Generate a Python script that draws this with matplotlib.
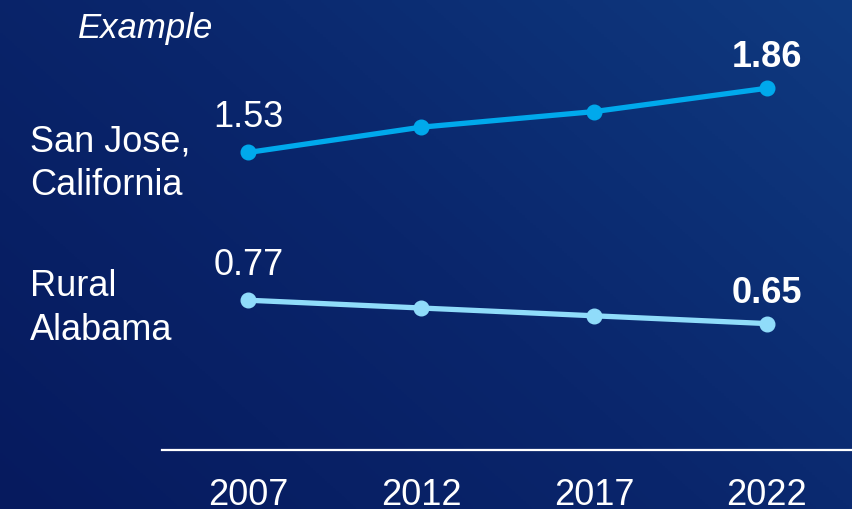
import numpy as np
import matplotlib.pyplot as plt
from matplotlib.colors import LinearSegmentedColormap

plt.rcParams['font.family'] = ['Liberation Sans', 'DejaVu Sans']

years = [2007, 2012, 2017, 2022]
san_jose = [1.53, 1.66, 1.74, 1.86]
rural_alabama = [0.77, 0.73, 0.69, 0.65]
series_names = ["San Jose,\nCalifornia", "Rural\nAlabama"]

fig = plt.figure(figsize=(8.53, 5.09), dpi=100)

# gradient background, dark bottom-left to lighter top-right
bg = fig.add_axes([0, 0, 1, 1], zorder=0)
xx, yy = np.meshgrid(np.linspace(0, 1, 300), np.linspace(0, 1, 200))
grad = 0.6 * xx + 0.4 * yy
cmap = LinearSegmentedColormap.from_list("bg", ["#061a5e", "#0a266c", "#0f3a80"])
bg.imshow(grad, cmap=cmap, origin="lower", aspect="auto", extent=[0, 1, 0, 1])
bg.axis("off")

ax = fig.add_axes([0.19, 0.116, 0.81, 0.884], zorder=1)
ax.patch.set_alpha(0)
ax.plot(years, san_jose, color="#00a9ec", lw=3.8, marker="o", ms=10.5,
        solid_capstyle="round")
ax.plot(years, rural_alabama, color="#90dcfa", lw=3.8, marker="o", ms=10.5,
        solid_capstyle="round")

ax.set_xlim(2004.5, 2024.5)
ax.set_ylim(0, 2.314)
ax.set_xticks(years)
ax.set_xticklabels([str(y) for y in years], fontsize=26, color="white")
ax.tick_params(axis="x", length=0, pad=20)
ax.set_yticks([])
for s in ["top", "right", "left"]:
    ax.spines[s].set_visible(False)
ax.spines["bottom"].set_color("white")
ax.spines["bottom"].set_linewidth(1.6)

# value labels at start (regular) and end (bold)
for vals in [san_jose, rural_alabama]:
    ax.annotate(f"{vals[0]:.2f}", (years[0], vals[0]), xytext=(0, 18),
                textcoords="offset points", ha="center", va="baseline",
                fontsize=26, color="white")
    ax.annotate(f"{vals[-1]:.2f}", (years[-1], vals[-1]), xytext=(0, 15),
                textcoords="offset points", ha="center", va="baseline",
                fontsize=26, color="white", fontweight="bold")

fig.text(0.035, 0.756, series_names[0], fontsize=26, color="white",
         va="top", ha="left", linespacing=1.33)
fig.text(0.035, 0.471, series_names[1], fontsize=26, color="white",
         va="top", ha="left", linespacing=1.33)
fig.text(0.091, 0.976, "Example", fontsize=25, color="white",
         style="italic", va="top", ha="left")

fig.savefig("out.png", dpi=100)
